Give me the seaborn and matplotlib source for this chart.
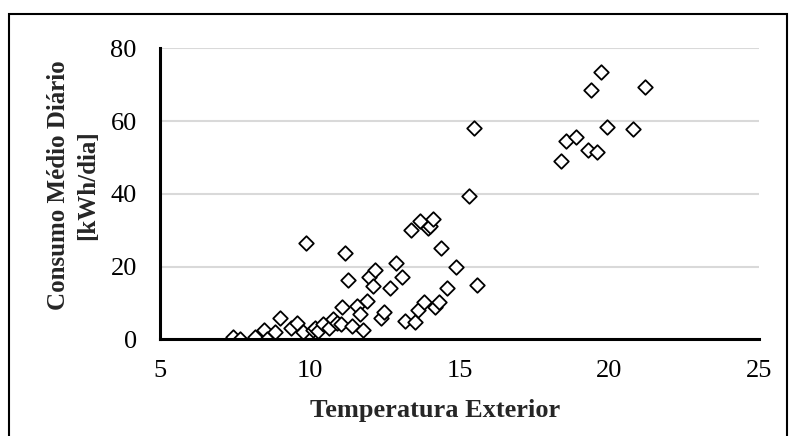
import matplotlib
matplotlib.use("Agg")
import matplotlib.pyplot as plt
import seaborn as sns
import pandas as pd
from matplotlib.patches import Rectangle

temperatura = [7.43, 7.66, 8.15, 8.45, 8.57, 8.83, 9.0, 9.38, 9.57, 9.77, 9.88,
               10.09, 10.18, 10.26, 10.43, 10.63, 10.77, 10.89, 11.02, 11.08,
               11.17, 11.28, 11.42, 11.58, 11.68, 11.78, 11.9, 11.97, 12.09,
               12.18, 12.36, 12.48, 12.67, 12.88, 13.08, 13.18, 13.39, 13.5,
               13.6, 13.67, 13.8, 13.93, 14.0, 14.1, 14.19, 14.31, 14.38, 14.58,
               14.89, 15.3, 15.47, 15.58, 18.39, 18.57, 18.9, 19.28, 19.4, 19.59,
               19.71, 19.91, 20.8, 21.19]
consumo = [0.5, 0.0, 0.7, 2.6, 0.0, 2.0, 5.9, 3.2, 4.5, 1.9, 26.4,
           2.5, 3.0, 2.4, 4.3, 3.0, 5.5, 4.6, 4.2, 9.0,
           23.6, 16.3, 3.7, 9.2, 6.9, 2.6, 10.5, 17.2, 14.6,
           19.1, 5.8, 7.6, 14.1, 20.9, 17.0, 5.0, 30.1, 4.7,
           8.0, 32.4, 10.3, 30.7, 31.1, 33.0, 9.0, 10.2, 25.0, 14.2,
           20.0, 39.3, 58.0, 14.9, 48.9, 54.6, 55.5, 52.1, 68.6, 51.6,
           73.4, 58.5, 57.8, 69.3]

x_ticks = [5, 10, 15, 20, 25]
y_ticks = [0, 20, 40, 60, 80]
x_label = "Temperatura Exterior"
y_label = "Consumo Médio Diário\n[kWh/dia]"

df = pd.DataFrame({"Temperatura": temperatura, "Consumo": consumo})

sns.set_theme(style="white")
plt.rcParams["font.family"] = ["Liberation Serif", "DejaVu Serif"]

fig = plt.figure(figsize=(7.91, 4.36), dpi=100)
ax = fig.add_axes([0.2028, 0.2218, 0.9593 - 0.2028, 0.8892 - 0.2218])

sns.scatterplot(data=df, x="Temperatura", y="Consumo", ax=ax, marker="D",
                s=55, facecolor="white", edgecolor="black", linewidth=1.3,
                zorder=3)

ax.set_xlim(5, 25)
ax.set_ylim(0, 80)
ax.set_xticks(x_ticks)
ax.set_yticks(y_ticks)
ax.yaxis.grid(True, color="#d9d9d9", linewidth=1.5, zorder=0)
ax.xaxis.grid(False)
for side in ["top", "right"]:
    ax.spines[side].set_visible(False)
for side in ["left", "bottom"]:
    ax.spines[side].set_color("black")
    ax.spines[side].set_linewidth(2.2)
    ax.spines[side].set_zorder(4)
ax.tick_params(axis="both", direction="in", length=6, width=1.5,
               color="black", labelsize=19, labelcolor="black")
ax.tick_params(axis="y", pad=17)
ax.tick_params(axis="x", pad=15)
ax.set_xlabel(x_label, fontsize=19, fontweight="bold", labelpad=12)
ax.set_ylabel(y_label, fontsize=18, fontweight="bold", labelpad=8,
              linespacing=1.35)
ax.xaxis.label.set_x(0.459)
ax.yaxis.label.set_y(0.53)

fig.patches.append(Rectangle((9 / 791, -0.05), (787 - 9) / 791, 1 - 14 / 436 + 0.05,
                             transform=fig.transFigure, fill=False,
                             edgecolor="black", linewidth=1.5))

fig.savefig("out.png", dpi=100)
